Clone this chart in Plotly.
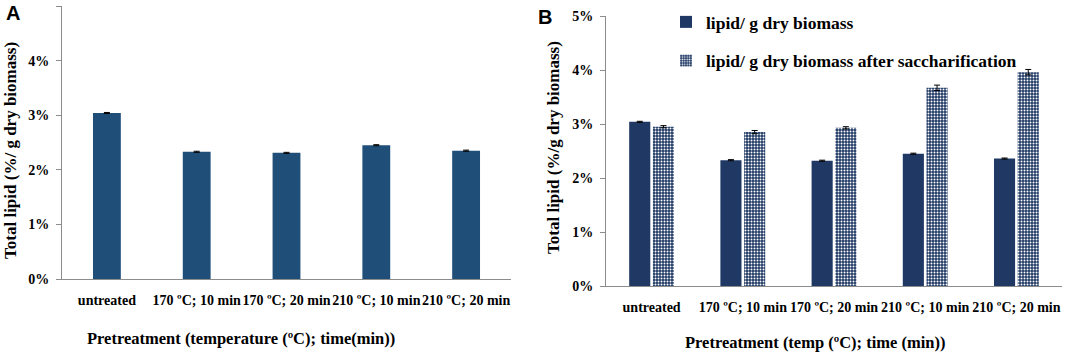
import plotly.graph_objects as go

categories = ["untreated", "170 ºC; 10 min", "170 ºC; 20 min", "210 ºC; 10 min", "210 ºC; 20 min"]

# Panel A: total lipid (% / g dry biomass)
lipid_a = [3.04, 2.33, 2.31, 2.45, 2.35]
lipid_a_err = [0.01, 0.01, 0.01, 0.01, 0.01]

# Panel B
lipid_b = [3.04, 2.33, 2.32, 2.45, 2.36]
lipid_b_err = [0.01, 0.01, 0.01, 0.01, 0.01]
sacch_b = [2.95, 2.85, 2.93, 3.67, 3.96]
sacch_b_err = [0.02, 0.03, 0.02, 0.05, 0.05]

yticks = [0, 1, 2, 3, 4, 5]

SERIF = "Liberation Serif"
ERR = dict(type="data", color="black", thickness=1, width=3)

fig = go.Figure()
fig.add_trace(go.Bar(
    x=categories, y=lipid_a, error_y=dict(array=lipid_a_err, **ERR),
    marker=dict(color="#1F4E79", line=dict(width=0)), width=0.31,
    xaxis="x", yaxis="y", showlegend=False,
))
fig.add_trace(go.Bar(
    x=categories, y=lipid_b, error_y=dict(array=lipid_b_err, **ERR),
    marker=dict(color="#1F3864", line=dict(width=0)),
    name="lipid/ g dry biomass", legendgroup="a",
    xaxis="x2", yaxis="y2",
))
fig.add_trace(go.Bar(
    x=categories, y=sacch_b, error_y=dict(array=sacch_b_err, **ERR),
    marker=dict(color="#1F3864", line=dict(width=0),
                pattern=dict(shape=".", fillmode="replace", fgcolor="white",
                             bgcolor="#1F3864", size=3, solidity=0.35)),
    name="lipid/ g dry biomass after saccharification", legendgroup="b",
    xaxis="x2", yaxis="y2",
))

ax_common = dict(showline=True, linecolor="#8c8c8c", linewidth=1, showgrid=False,
                 zeroline=False, fixedrange=True, automargin=False)
xfont = dict(family=SERIF, size=14, color="black", weight="bold")
yfont = dict(family=SERIF, size=14, color="black", weight="bold")
titlefont = dict(family=SERIF, size=17, color="black", weight="bold")
xtitlefont = dict(family=SERIF, size=16.5, color="black", weight="bold")
panelfont = dict(family="Liberation Sans", size=20, color="black", weight="bold")

H = 352
W = 1072
fig.update_layout(
    template="none",
    width=W, height=H,
    margin=dict(l=0, r=0, t=0, b=0, pad=0, autoexpand=False),
    paper_bgcolor="white", plot_bgcolor="white",
    barmode="group", bargap=0.48, bargroupgap=0.11,
    xaxis=dict(domain=[62 / W, 511 / W], anchor="y", ticks="", tickfont=xfont,
               tickangle=0, ticklabelstandoff=8, **ax_common),
    yaxis=dict(domain=[1 - 279 / H, 1 - 6 / H], anchor="x", range=[0, 5], tickvals=yticks,
               ticktext=[f"{v}%" for v in yticks], ticks="outside", ticklen=5,
               tickcolor="#8c8c8c", tickfont=yfont, ticklabelstandoff=4, **ax_common),
    xaxis2=dict(domain=[606 / W, 1062 / W], anchor="y2", ticks="", tickfont=xfont,
                tickangle=0, ticklabelstandoff=8, **ax_common),
    yaxis2=dict(domain=[1 - 286 / H, 1 - 16 / H], anchor="x2", range=[0, 5], tickvals=yticks,
                ticktext=[f"{v}%" for v in yticks], ticks="outside", ticklen=5,
                tickcolor="#8c8c8c", tickfont=yfont, ticklabelstandoff=4, **ax_common),
    legend=dict(x=666 / W, y=1 - 4 / H, xanchor="left", yanchor="top",
                font=dict(family=SERIF, size=17.5, color="black", weight="bold"),
                bgcolor="rgba(0,0,0,0)", borderwidth=0, tracegroupgap=13, itemclick=False),
    annotations=[
        dict(text="A", x=13 / W, y=1 - 13 / H, xref="paper", yref="paper", xanchor="center",
             yanchor="middle", showarrow=False, font=panelfont),
        dict(text="B", x=545 / W, y=1 - 17 / H, xref="paper", yref="paper", xanchor="center",
             yanchor="middle", showarrow=False, font=panelfont),
        dict(text="Total lipid (%/ g dry biomass)", x=10 / W, y=1 - 151 / H, xref="paper",
             yref="paper", xanchor="center", yanchor="middle", textangle=-90,
             showarrow=False, font=titlefont),
        dict(text="Total lipid (%/g dry biomass)", x=553 / W, y=1 - 148 / H, xref="paper",
             yref="paper", xanchor="center", yanchor="middle", textangle=-90,
             showarrow=False, font=titlefont),
        dict(text="Pretreatment (temperature (ºC); time(min))", x=241 / W, y=1 - 338 / H,
             xref="paper", yref="paper", xanchor="center", yanchor="middle",
             showarrow=False, font=xtitlefont),
        dict(text="Pretreatment (temp (ºC); time (min))", x=815 / W, y=1 - 342 / H,
             xref="paper", yref="paper", xanchor="center", yanchor="middle",
             showarrow=False, font=xtitlefont),
    ],
)

fig.write_html("out.html")
